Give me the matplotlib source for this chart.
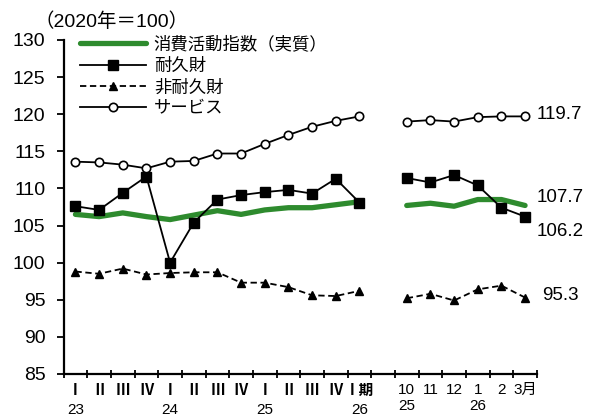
import numpy as np
import matplotlib
matplotlib.use("Agg")
import matplotlib.pyplot as plt
from matplotlib.transforms import blended_transform_factory

plt.rcParams['font.family'] = ['Liberation Sans', 'Noto Sans CJK JP', 'DejaVu Sans']

# quarterly 2023 I .. 2026 I, then monthly 2025/10 .. 2026/3
q_labels = ["Ⅰ", "Ⅱ", "Ⅲ", "Ⅳ", "Ⅰ", "Ⅱ", "Ⅲ", "Ⅳ", "Ⅰ", "Ⅱ", "Ⅲ", "Ⅳ", "Ⅰ期"]
m_labels = ["10", "11", "12", "1", "2", "3月"]
q_years = {0: "23", 4: "24", 8: "25", 12: "26"}
m_years = {0: "25", 3: "26"}

consumption_q = [106.5, 106.2, 106.7, 106.2, 105.8, 106.4, 107.0, 106.5, 107.1, 107.4, 107.4, 107.8, 108.2]
durable_q = [107.6, 107.1, 109.4, 111.6, 100.0, 105.4, 108.5, 109.1, 109.5, 109.8, 109.3, 111.3, 108.1]
nondurable_q = [98.8, 98.5, 99.2, 98.4, 98.6, 98.7, 98.7, 97.3, 97.3, 96.7, 95.6, 95.5, 96.2]
services_q = [113.6, 113.5, 113.2, 112.7, 113.6, 113.7, 114.7, 114.7, 116.0, 117.2, 118.3, 119.1, 119.7]

consumption_m = [107.7, 108.0, 107.6, 108.5, 108.5, 107.7]
durable_m = [111.4, 110.8, 111.8, 110.4, 107.4, 106.2]
nondurable_m = [95.2, 95.8, 94.9, 96.4, 96.9, 95.3]
services_m = [119.0, 119.2, 119.0, 119.6, 119.7, 119.7]

nq = len(q_labels)
nm = len(m_labels)
n = nq + 1 + nm
x = np.arange(n) + 0.5

def join(q, m):
    return np.array(list(q) + [np.nan] + list(m))

fig = plt.figure(figsize=(5.9, 4.16), dpi=100)
ax = fig.add_axes([0.1078, 0.101, 0.910 - 0.1078, 0.904 - 0.101])

green = "#2e8b2e"
ax.plot(x, join(consumption_q, consumption_m), color=green, lw=3.8, solid_capstyle='round',
        label="消費活動指数（実質）", zorder=2)
ax.plot(x, join(durable_q, durable_m), color="black", lw=1.3, marker="s", ms=6.5,
        label="耐久財", zorder=3)
ax.plot(x, join(nondurable_q, nondurable_m), color="black", lw=1.3, ls=(0, (3.5, 2)),
        marker="^", ms=6, label="非耐久財", zorder=3)
ax.plot(x, join(services_q, services_m), color="black", lw=1.3, marker="o", ms=6,
        mfc="white", mec="black", mew=1.2, label="サービス", zorder=3)

ax.set_xlim(0, n)
ax.set_ylim(85, 130)
ax.set_yticks(np.arange(85, 131, 5))
ax.tick_params(axis='y', direction='out', length=5, width=1.3, labelsize=14, pad=8)
ax.set_xticks(np.arange(0, n + 1))
ax.set_xticklabels([])
ax.tick_params(axis='x', direction='inout', length=6, width=1.3)
for s in ['top', 'right']:
    ax.spines[s].set_visible(False)
for s in ['left', 'bottom']:
    ax.spines[s].set_linewidth(1.6)

tr = blended_transform_factory(ax.transData, fig.transFigure)
for i, lab in enumerate(q_labels):
    ax.text(x[i], 1 - 390 / 416, lab, transform=tr, ha='center', va='center', fontsize=10.5,
            family=['Noto Sans CJK JP'], weight='bold')
for i, lab in enumerate(m_labels):
    ax.text(x[nq + 1 + i], 1 - 390 / 416, lab, transform=tr, ha='center', va='center', fontsize=11)
for i, lab in q_years.items():
    ax.text(x[i], 1 - 410 / 416, lab, transform=tr, ha='center', va='center', fontsize=11)
for i, lab in m_years.items():
    ax.text(x[nq + 1 + i], 1 - 406 / 416, lab, transform=tr, ha='center', va='center', fontsize=11)

# end values
last = n - 0.5
ax.annotate("119.7", (last, services_m[-1]), xytext=(8.5, 1.5), textcoords='offset points',
            va='center', fontsize=13.5)
ax.annotate("107.7", (last, consumption_m[-1]), xytext=(8.5, 5.5), textcoords='offset points',
            va='center', fontsize=13.5)
ax.annotate("106.2", (last, durable_m[-1]), xytext=(8.5, -11), textcoords='offset points',
            va='center', fontsize=13.5)
ax.annotate("95.3", (last, nondurable_m[-1]), xytext=(12, 1.5), textcoords='offset points',
            va='center', fontsize=13.5)

fig.text(0.058, 1 - 22 / 416, "（2020年＝100）", fontsize=14, va='center', ha='left')

ax.legend(loc='upper left', bbox_to_anchor=(0.02, 1.035), frameon=False, fontsize=12.5,
          handlelength=3.8, labelspacing=0.32, handletextpad=0.45, borderaxespad=0)

fig.savefig("out.png", dpi=100)
